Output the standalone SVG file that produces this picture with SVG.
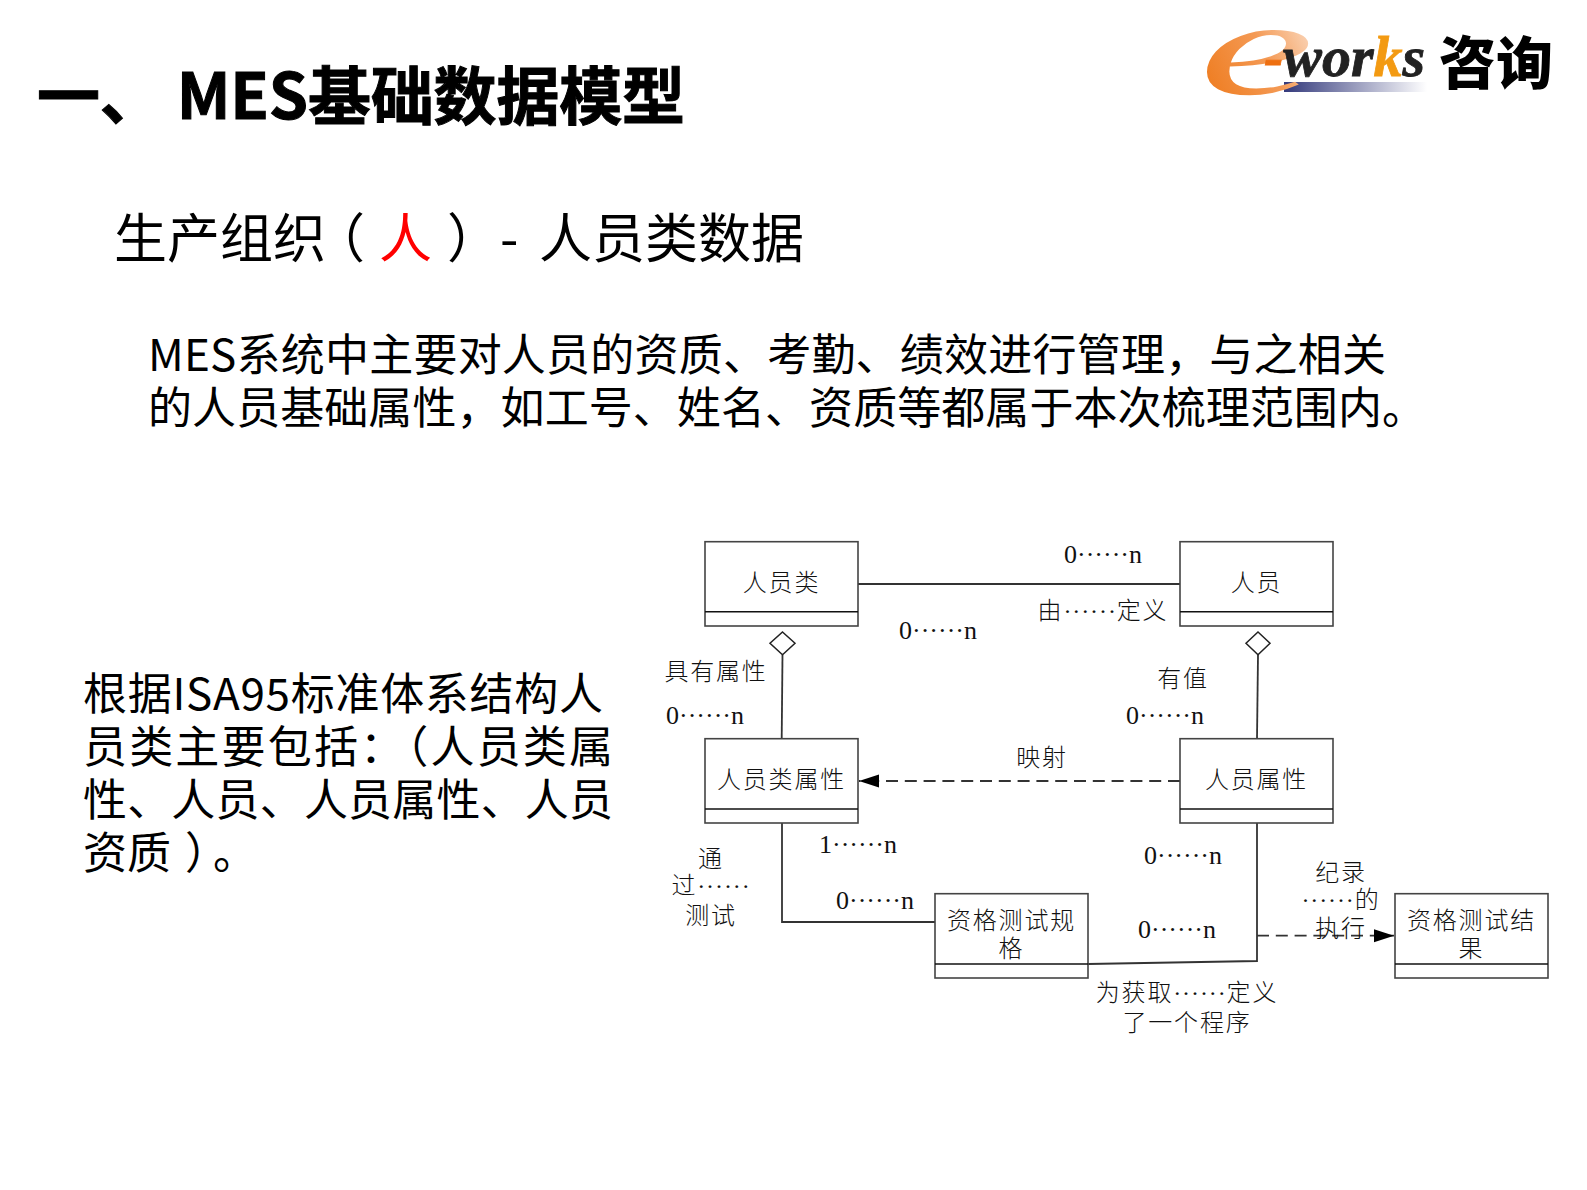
<svg xmlns="http://www.w3.org/2000/svg" width="1587" height="1190" viewBox="0 0 1587 1190">
<style>
text{font-family:"Noto Sans CJK SC","Noto Sans",sans-serif;fill:#000}
.t{font-size:63px;font-weight:700;stroke:#000;stroke-width:1}
.h{font-size:53px}
.b{font-size:44px}
.l{font-family:"Liberation Serif","Noto Sans CJK SC",serif;font-size:24px;letter-spacing:1.8px;text-anchor:middle;fill:#111;font-weight:300}
.o{letter-spacing:0.9px}
.n{font-family:"Liberation Serif",serif;font-size:26px;text-anchor:middle;fill:#111}
.box{fill:#fff;stroke:#444;stroke-width:1.6}
.div{stroke:#111;stroke-width:1.6}
.c{fill:none;stroke:#333;stroke-width:1.8}
.d{stroke-dasharray:12 6.8}
.w{font-family:"Liberation Serif",serif;font-size:58px;font-weight:700;font-style:italic;stroke-width:0.8}
</style>
<defs>
<linearGradient id="bar" x1="0" x2="1" y1="0" y2="0"><stop offset="0" stop-color="#343a7c"/><stop offset="1" stop-color="#fff"/></linearGradient>
<linearGradient id="eg" x1="0" x2="1" y1="0.75" y2="0.1"><stop offset="0" stop-color="#ee7a1c"/><stop offset="0.5" stop-color="#f49a55"/><stop offset="1" stop-color="#fdf0e6"/></linearGradient>
<marker id="a" markerWidth="20" markerHeight="14" refX="20" refY="6.5" orient="auto" markerUnits="userSpaceOnUse"><path d="M0 0L20 6.5L0 13Z" fill="#000"/></marker>
</defs>
<g id="logo">
<rect x="1284" y="82" width="143" height="10" fill="url(#bar)"/>
<text transform="translate(1199,94) scale(1.85,0.97)" x="0" y="0" style="font-family:'Liberation Serif',serif;font-size:140px;font-style:italic;fill:url(#eg)">e</text>
<text class="w" x="1264" y="76"><tspan fill="#ee6f10" stroke="#ee6f10">-</tspan><tspan fill="#222" stroke="#222">wor</tspan><tspan fill="#f39a12" stroke="#f39a12">k</tspan><tspan fill="#222" stroke="#222">s</tspan></text>
<text x="1439" y="84" style="font-size:57px;font-weight:900">咨询</text>
</g>
<g id="title"><text class="t" x="37" y="119" textLength="648" lengthAdjust="spacing">一、 MES基础数据模型</text></g>
<g id="subtitle"><text class="h" x="114" y="258">生产组织<tspan dx="-14">（</tspan></text><text class="h" x="379" y="258" style="fill:#f00">人</text><text class="h" x="447" y="258">）</text><text class="h" x="500" y="258">-</text><text class="h" x="539" y="258">人员类数据</text></g>
<g id="intro">
<text class="b" x="148" y="371" textLength="1238" lengthAdjust="spacing">MES系统中主要对人员的资质、考勤、绩效进行管理，与之相关</text>
<text class="b" x="148" y="424" textLength="1278" lengthAdjust="spacing">的人员基础属性，如工号、姓名、资质等都属于本次梳理范围内。</text>
</g>
<g id="side">
<text class="b" x="83" y="710" textLength="520" lengthAdjust="spacing">根据ISA95标准体系结构人</text>
<text class="b" x="83" y="763" textLength="530" lengthAdjust="spacing">员类主要包括：（人员类属</text>
<text class="b" x="83" y="816" textLength="530" lengthAdjust="spacing">性、人员、人员属性、人员</text>
<text class="b" x="83" y="869">资质<tspan dx="14">）</tspan><tspan dx="6">。</tspan></text>
</g>
<g id="connectors">
<path class="c" d="M858 584H1180"/>
<path class="c" d="M782.5 655L781.7 739"/>
<path class="c" d="M1258 655L1257 739"/>
<path class="c d" d="M1180 781H859" marker-end="url(#a)"/>
<path class="c" d="M782 823V922H935"/>
<path class="c" d="M1257 823V961L1088 964"/>
<path class="c d" d="M1257 935.7H1394" marker-end="url(#a)"/>
<path d="M782.5 632L795 643.3L782.5 654.7L770 643.3Z" fill="#fff" stroke="#222" stroke-width="1.5"/>
<path d="M1258 632L1270 643.3L1258 654.7L1246 643.3Z" fill="#fff" stroke="#222" stroke-width="1.5"/>
</g>
<g id="node-renyuanlei"><rect class="box" x="705" y="541.7" width="153" height="84.3"/><path class="div" d="M705 611.7H858"/><text class="l" x="781.5" y="591">人员类</text></g>
<g id="node-renyuan"><rect class="box" x="1180" y="541.7" width="153" height="84.3"/><path class="div" d="M1180 611.7H1333"/><text class="l" x="1256.5" y="591">人员</text></g>
<g id="node-renyuanleishuxing"><rect class="box" x="705" y="738.7" width="153" height="84.3"/><path class="div" d="M705 809H858"/><text class="l" x="781.5" y="788">人员类属性</text></g>
<g id="node-renyuanshuxing"><rect class="box" x="1180" y="738.7" width="153" height="84.3"/><path class="div" d="M1180 809H1333"/><text class="l" x="1256.5" y="788">人员属性</text></g>
<g id="node-guige"><rect class="box" x="935" y="893.7" width="153" height="84.3"/><path class="div" d="M935 964H1088"/><text class="l" x="1011.5" y="929">资格测试规</text><text class="l" x="1011.5" y="957">格</text></g>
<g id="node-jieguo"><rect class="box" x="1395" y="893.7" width="153" height="84.3"/><path class="div" d="M1395 964H1548"/><text class="l" x="1471.5" y="929">资格测试结</text><text class="l" x="1471.5" y="957">果</text></g>
<g id="labels">
<text class="n" x="1103" y="563">0······n</text>
<text class="l" x="1103" y="619">由<tspan class="o">······</tspan>定义</text>
<text class="n" x="938" y="639">0······n</text>
<text class="l" x="716" y="680">具有属性</text>
<text class="n" x="705" y="724">0······n</text>
<text class="l" x="1183" y="687">有值</text>
<text class="n" x="1165" y="724">0······n</text>
<text class="l" x="1042" y="766">映射</text>
<text class="n" x="858" y="853">1······n</text>
<text class="n" x="1183" y="864">0······n</text>
<text class="l" x="711" y="867">通</text>
<text class="l" x="711" y="894">过<tspan class="o">······</tspan></text>
<text class="l" x="711" y="924">测试</text>
<text class="n" x="875" y="909">0······n</text>
<text class="n" x="1177" y="938">0······n</text>
<text class="l" x="1341" y="881">纪录</text>
<text class="l" x="1341" y="908"><tspan class="o">······</tspan>的</text>
<text class="l" x="1341" y="937">执行</text>
<text class="l" x="1187" y="1001">为获取<tspan class="o">······</tspan>定义</text>
<text class="l" x="1187" y="1031">了一个程序</text>
</g>
</svg>
